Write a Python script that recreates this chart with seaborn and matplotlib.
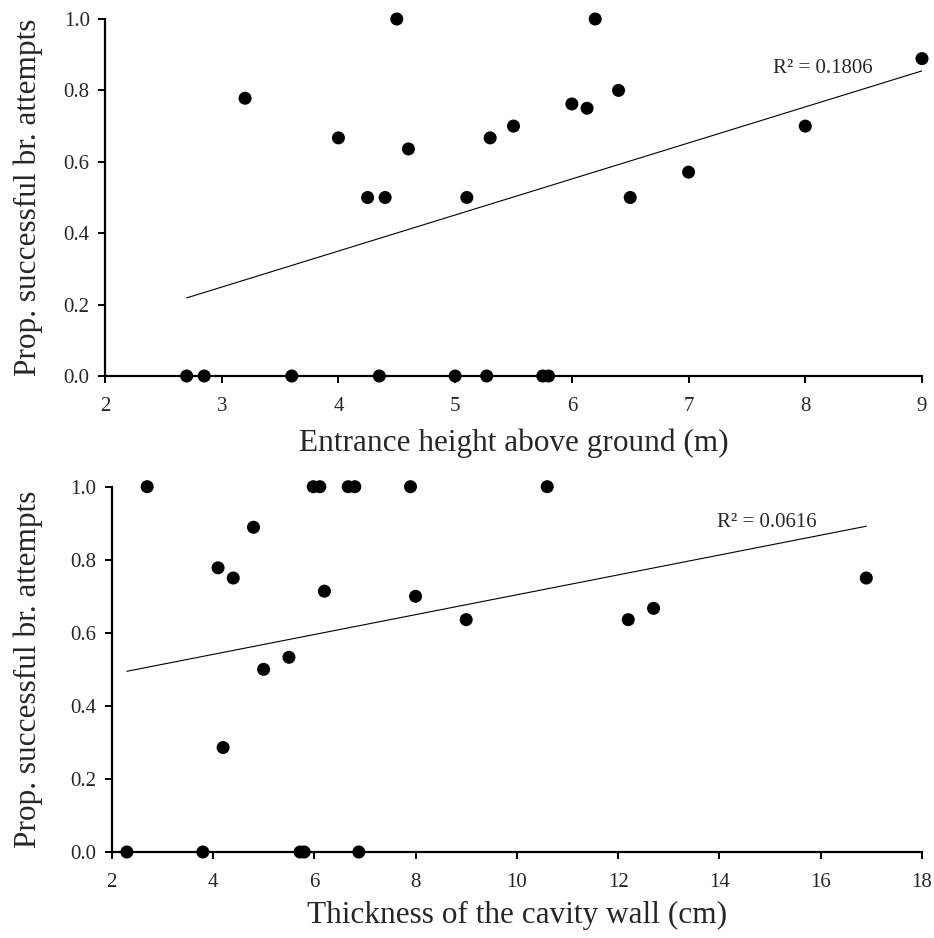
import numpy as np
import pandas as pd
import matplotlib
matplotlib.use("Agg")
import matplotlib.pyplot as plt
import seaborn as sns

# Panel 1: entrance height vs proportion successful breeding attempts
height_m = [2.70, 2.85, 3.60, 4.35, 5.00, 5.27, 5.75, 5.80,
            3.20, 4.00, 4.50, 4.60, 4.25, 4.40, 5.10, 5.30, 5.50,
            6.00, 6.13, 6.20, 6.40, 6.50, 7.00, 8.00, 9.00]
prop_height = [0, 0, 0, 0, 0, 0, 0, 0,
               0.778, 0.667, 1.0, 0.636, 0.5, 0.5, 0.5, 0.667, 0.70,
               0.762, 0.75, 1.0, 0.80, 0.5, 0.571, 0.70, 0.889]

# Panel 2: thickness of cavity wall vs proportion successful breeding attempts
thick_cm = [2.30, 3.80, 5.72, 5.80, 6.88,
            2.70, 5.98, 6.11, 6.67, 6.80, 7.90, 10.60,
            4.10, 4.40, 4.20, 4.80, 5.00, 5.50, 6.20, 8.00, 9.00, 12.20, 12.70, 16.90]
prop_thick = [0, 0, 0, 0, 0,
              1.0, 1.0, 1.0, 1.0, 1.0, 1.0, 1.0,
              0.778, 0.75, 0.286, 0.889, 0.5, 0.533, 0.714, 0.70, 0.636, 0.636, 0.667, 0.75]

r2_labels = ["R\u00b2 = 0.1806", "R\u00b2 = 0.0616"]
xlabels = ["Entrance height above ground (m)", "Thickness of the cavity wall (cm)"]
ylabel = "Prop. successful br. attempts"

sns.set_style("white")
plt.rcParams["font.family"] = ["Liberation Serif", "DejaVu Serif"]

fig = plt.figure(figsize=(9.34, 9.38), dpi=100)
W, H = 934, 938
ax1 = fig.add_axes([105 / W, 1 - 376 / H, (922 - 105) / W, (376 - 19) / H])
ax2 = fig.add_axes([111.7 / W, 1 - 852 / H, (922 - 111.7) / W, (852 - 486.7) / H])

df1 = pd.DataFrame({"x": height_m, "y": prop_height})
df2 = pd.DataFrame({"x": thick_cm, "y": prop_thick})

specs = [
    (ax1, df1, (2, 9), np.arange(2, 10, 1), (7.72, 0.85), r2_labels[0], xlabels[0], 9, 15),
    (ax2, df2, (2, 18), np.arange(2, 19, 2), (13.95, 0.89), r2_labels[1], xlabels[1], 6.5, 20),
]

for ax, df, xlim, xticks, txtpos, r2, xl, xpad, ypad in specs:
    sns.regplot(data=df, x="x", y="y", ax=ax, ci=None, truncate=True,
                scatter_kws=dict(s=88, color="black", alpha=1, edgecolor="none",
                                 zorder=3, clip_on=False),
                line_kws=dict(color="black", lw=0.8))
    ax.set_xlim(*xlim)
    ax.set_ylim(0, 1.0)
    ax.set_xticks(xticks)
    ax.set_xticklabels([str(int(t)) for t in xticks])
    ax.set_yticks(np.arange(0, 1.01, 0.2))
    ax.set_yticklabels([f"{v:.1f}" for v in np.arange(0, 1.01, 0.2)])
    for s in ["top", "right"]:
        ax.spines[s].set_visible(False)
    for s in ["left", "bottom"]:
        ax.spines[s].set_linewidth(1.6)
        ax.spines[s].set_color("black")
    ax.tick_params(axis="both", direction="out", length=5, width=1.4, color="black",
                   labelsize=15, bottom=True, left=True)
    ax.tick_params(axis="x", pad=10)
    ax.tick_params(axis="y", pad=6)
    ax.set_xlabel(xl, fontsize=22.5, labelpad=xpad)
    ax.set_ylabel(ylabel, fontsize=22.5, labelpad=ypad)
    ax.text(txtpos[0], txtpos[1], r2, fontsize=15, ha="left", va="baseline")

fig.savefig("out.png", dpi=100)
